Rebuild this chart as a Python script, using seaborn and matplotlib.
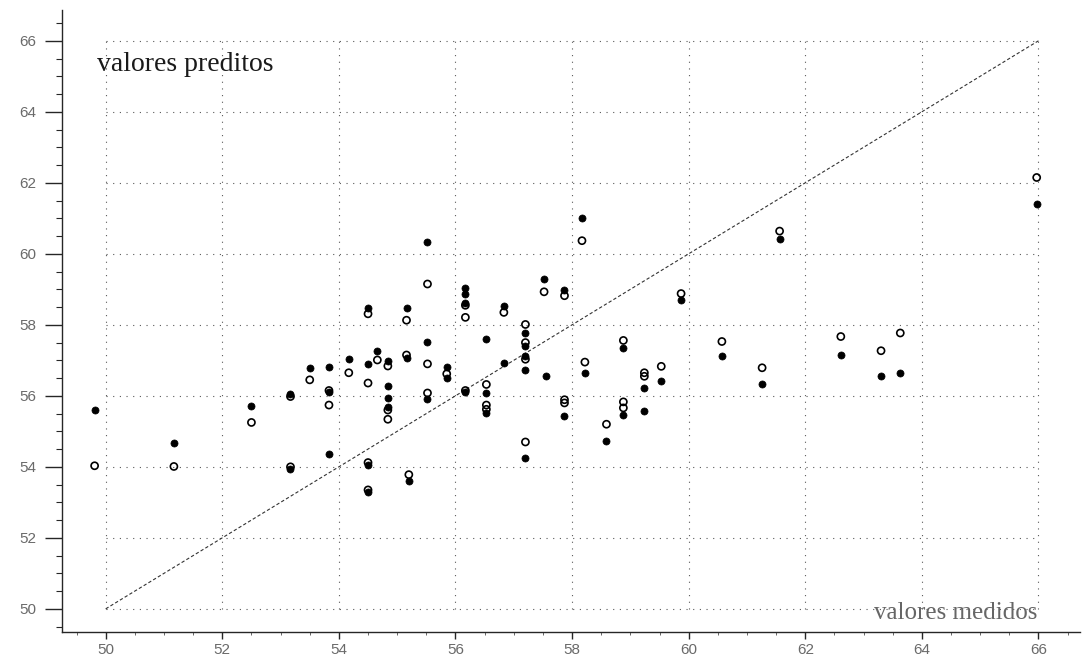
import numpy as np
import pandas as pd
import matplotlib
matplotlib.use("Agg")
import matplotlib.pyplot as plt
import seaborn as sns

# valores medidos / preditos, pontos cheios
medidos_cheio = [49.81, 51.17, 52.50, 53.17, 53.17, 53.50, 53.83, 53.83, 53.83, 54.17,
                 54.50, 54.50, 54.50, 54.50, 54.66, 54.84, 54.84, 54.84, 54.84,
                 55.16, 55.16, 55.20, 55.52, 55.52, 55.52, 55.85, 55.85,
                 56.17, 56.17, 56.17, 56.17, 56.53, 56.53, 56.53, 56.83, 56.83,
                 57.20, 57.20, 57.20, 57.20, 57.20, 57.52, 57.55, 57.87, 57.87,
                 58.17, 58.22, 58.59, 58.88, 58.88, 59.24, 59.24, 59.53, 59.87,
                 60.57, 61.26, 61.56, 62.61, 63.30, 63.63, 65.97]
preditos_cheio = [55.60, 54.68, 55.71, 56.05, 53.94, 56.78, 56.82, 56.12, 54.36, 57.04,
                  58.47, 56.89, 54.06, 53.29, 57.27, 56.98, 56.29, 55.93, 55.69,
                  58.46, 57.07, 53.60, 60.34, 57.51, 55.90, 56.81, 56.51,
                  59.03, 58.88, 58.62, 56.10, 57.61, 56.09, 55.51, 58.54, 56.93,
                  57.77, 57.41, 57.13, 56.72, 54.26, 59.28, 56.56, 58.97, 55.44,
                  61.00, 56.65, 54.72, 57.35, 55.46, 56.22, 55.57, 56.41, 58.70,
                  57.12, 56.34, 60.42, 57.16, 56.55, 56.65, 61.39]

# pontos vazios
medidos_vazio = [49.81, 51.17, 52.50, 53.17, 53.17, 53.50, 53.83, 53.83, 54.17,
                 54.50, 54.50, 54.50, 54.50, 54.66, 54.84, 54.84, 54.84,
                 55.16, 55.16, 55.20, 55.52, 55.52, 55.52, 55.85,
                 56.17, 56.17, 56.17, 56.53, 56.53, 56.53, 56.83,
                 57.20, 57.20, 57.20, 57.20, 57.52, 57.87, 57.87, 57.87,
                 58.17, 58.22, 58.59, 58.88, 58.88, 58.88, 59.24, 59.24, 59.53,
                 59.87, 60.57, 61.26, 61.56, 62.61, 63.30, 63.63, 65.97]
preditos_vazio = [54.03, 54.01, 55.25, 55.98, 54.00, 56.45, 56.15, 55.74, 56.65,
                  58.31, 56.36, 54.12, 53.35, 57.01, 56.84, 55.60, 55.34,
                  58.13, 57.15, 53.78, 59.15, 56.90, 56.08, 56.62,
                  58.55, 58.21, 56.15, 56.32, 55.74, 55.62, 58.35,
                  58.01, 57.50, 57.03, 54.70, 58.93, 58.82, 55.89, 55.80,
                  60.37, 56.95, 55.20, 57.56, 55.83, 55.66, 56.65, 56.55, 56.83,
                  58.88, 57.53, 56.79, 60.64, 57.67, 57.27, 57.77, 62.15]

ticks = [50, 52, 54, 56, 58, 60, 62, 64, 66]

cheio = pd.DataFrame({"medido": medidos_cheio, "predito": preditos_cheio})
vazio = pd.DataFrame({"medido": medidos_vazio, "predito": preditos_vazio})

sns.set_style("ticks")
plt.rcParams["font.family"] = ["Liberation Sans", "DejaVu Sans"]

fig = plt.figure(figsize=(10.82, 6.61), dpi=100)
ax = fig.add_axes([0.057, 0.044, 0.941, 0.941])

# grade pontilhada so dentro de 50..66
for t in ticks:
    ax.plot([ticks[0], ticks[-1]], [t, t], color="0.35", lw=0.8,
            linestyle=(0, (1, 5)), zorder=1)
    ax.plot([t, t], [ticks[0], ticks[-1]], color="0.35", lw=0.8,
            linestyle=(0, (1, 5)), zorder=1)

# reta 1:1
ax.plot([ticks[0], ticks[-1]], [ticks[0], ticks[-1]], color="0.2", lw=0.8,
        linestyle=(0, (3, 2)), zorder=2)

sns.scatterplot(data=vazio, x="medido", y="predito", ax=ax, marker="o", s=26,
                facecolors="none", edgecolor="black", linewidth=1.2, zorder=3)
sns.scatterplot(data=cheio, x="medido", y="predito", ax=ax, marker="o", s=26,
                color="black", edgecolor="black", linewidth=0.5, zorder=4)

ax.set_xlim(49.245, 66.71)
ax.set_ylim(49.35, 66.87)
ax.set_xticks(ticks)
ax.set_yticks(ticks)
ax.set_xticks(np.arange(49.5, 66.6, 0.5), minor=True)
ax.set_yticks(np.arange(49.5, 66.8, 0.5), minor=True)
ax.tick_params(axis="y", which="major", length=12, width=1, pad=6,
               labelsize=11, labelcolor="#6a6a6a", color="0.15")
ax.tick_params(axis="y", which="minor", length=4, width=0.8, color="0.15")
ax.tick_params(axis="x", which="major", length=5, width=1, pad=3,
               labelsize=11, labelcolor="#6a6a6a", color="0.15")
ax.tick_params(axis="x", which="minor", length=2, width=0.6, color="0.3")
ax.set_xlabel("")
ax.set_ylabel("")

sns.despine(ax=ax)
for side in ["left", "bottom"]:
    ax.spines[side].set_color("0.15")
    ax.spines[side].set_linewidth(1)

ax.text(49.85, 65.16, "valores preditos", fontsize=20, family="Liberation Serif",
        color="0.1", ha="left", va="baseline")
ax.text(65.99, 49.72, "valores medidos", fontsize=18, family="Liberation Serif",
        color="0.4", ha="right", va="baseline")

fig.savefig("out.png", dpi=100)
